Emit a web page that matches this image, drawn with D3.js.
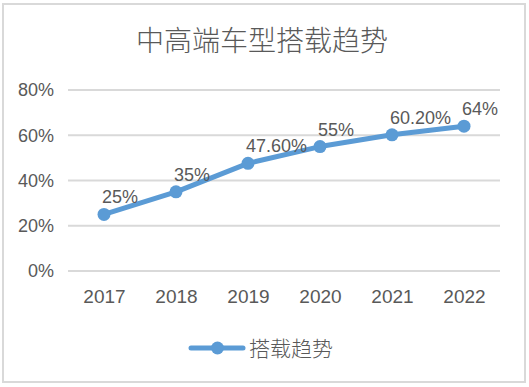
<!DOCTYPE html>
<html>
<head>
<meta charset="utf-8">
<script src="https://cdn.jsdelivr.net/npm/d3@7"></script>
<style>
  body { margin: 0; background: #fff; }
  svg { display: block; }
  text { font-family: "Liberation Sans", "Noto Sans CJK SC", sans-serif; }
  .cjk { font-family: "Noto Sans CJK SC", sans-serif; font-weight: 300; }
</style>
</head>
<body>
<div id="chart"></div>
<script>
var years = ["2017", "2018", "2019", "2020", "2021", "2022"];
var values = [25, 35, 47.6, 55, 60.2, 64];
var labels = ["25%", "35%", "47.60%", "55%", "60.20%", "64%"];
var yTicks = [0, 20, 40, 60, 80];
var title = "中高端车型搭载趋势";
var seriesName = "搭载趋势";

var W = 529, H = 387;
var margin = { top: 90, right: 29, bottom: 116, left: 68 };
var color = "#5B9BD5";

var svg = d3.select("#chart").append("svg")
    .attr("width", W)
    .attr("height", H);

svg.append("rect")
    .attr("x", 3).attr("y", 4)
    .attr("width", 522).attr("height", 378)
    .attr("fill", "#fff")
    .attr("stroke", "#D9D9D9")
    .attr("stroke-width", 2);

svg.append("text")
    .attr("class", "cjk")
    .attr("x", 262).attr("y", 51)
    .attr("text-anchor", "middle")
    .attr("font-size", 28)
    .attr("fill", "#595959")
    .text(title);

var width = W - margin.left - margin.right,
    height = H - margin.top - margin.bottom;

var g = svg.append("g")
    .attr("transform", "translate(" + margin.left + "," + margin.top + ")");

var x = d3.scalePoint().domain(years).range([0, width]).padding(0.5);
var y = d3.scaleLinear().domain([0, 80]).range([height, 0]);

g.append("g").selectAll("line")
    .data(yTicks)
    .enter().append("line")
    .attr("x1", 0).attr("x2", width)
    .attr("y1", function(d) { return y(d); })
    .attr("y2", function(d) { return y(d); })
    .attr("stroke", "#D9D9D9")
    .attr("stroke-width", 2);

var yAxis = d3.axisLeft(y).tickValues(yTicks).tickSize(0).tickPadding(14)
    .tickFormat(function(d) { return d + "%"; });
var xAxis = d3.axisBottom(x).tickSize(0).tickPadding(19);

g.append("g").call(yAxis)
    .call(function(s) { s.select(".domain").remove(); })
    .selectAll("text")
    .attr("font-size", 18)
    .attr("fill", "#595959");

g.append("g").attr("transform", "translate(0," + height + ")").call(xAxis)
    .call(function(s) { s.select(".domain").remove(); })
    .selectAll("text")
    .attr("font-size", 19)
    .attr("fill", "#595959");

var data = years.map(function(d, i) { return { year: d, value: values[i], label: labels[i] }; });

var line = d3.line()
    .x(function(d) { return x(d.year); })
    .y(function(d) { return y(d.value); });

g.append("path")
    .datum(data)
    .attr("d", line)
    .attr("fill", "none")
    .attr("stroke", color)
    .attr("stroke-width", 5)
    .attr("stroke-linejoin", "round");

g.selectAll(".dot")
    .data(data)
    .enter().append("circle")
    .attr("class", "dot")
    .attr("cx", function(d) { return x(d.year); })
    .attr("cy", function(d) { return y(d.value); })
    .attr("r", 6.5)
    .attr("fill", color);

g.selectAll(".lbl")
    .data(data)
    .enter().append("text")
    .attr("class", "lbl")
    .attr("x", function(d) { return x(d.year) - 2; })
    .attr("y", function(d) { return y(d.value) - 11; })
    .attr("font-size", 18)
    .attr("fill", "#595959")
    .text(function(d) { return d.label; });

// legend
var lg = svg.append("g").attr("transform", "translate(191,348)");
lg.append("line")
    .attr("x1", 0).attr("x2", 52)
    .attr("stroke", color).attr("stroke-width", 5)
    .attr("stroke-linecap", "round");
lg.append("circle").attr("cx", 26.5).attr("r", 6.5).attr("fill", color);
lg.append("text")
    .attr("class", "cjk")
    .attr("x", 58).attr("y", 7.5)
    .attr("font-size", 21)
    .attr("fill", "#595959")
    .text(seriesName);
</script>
</body>
</html>
